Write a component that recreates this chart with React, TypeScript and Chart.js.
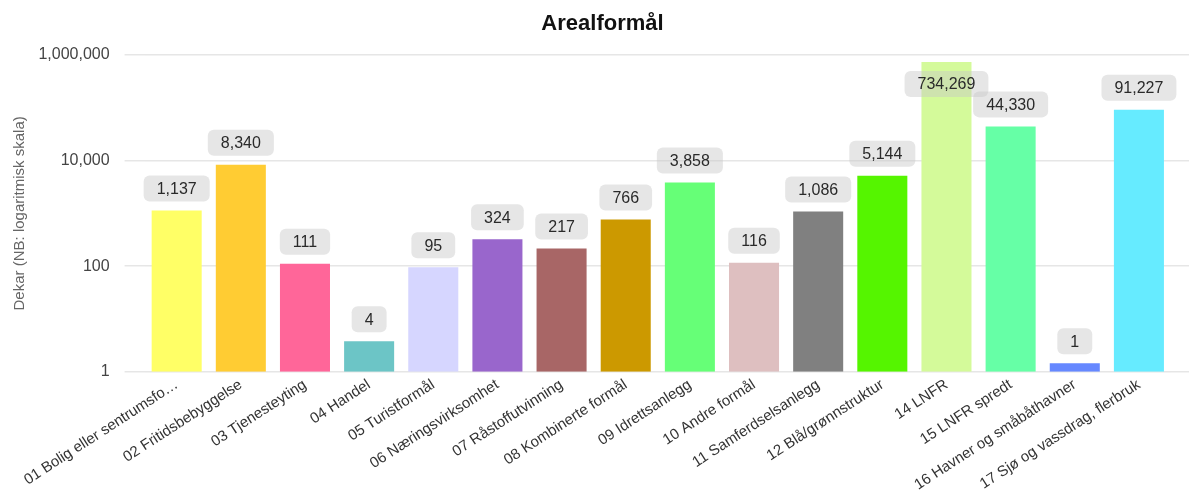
import React, { useEffect, useRef } from "react";
import { Chart, registerables } from "chart.js";

Chart.register(...registerables);

const chartTitle = "Arealformål";
const yAxisTitle = "Dekar (NB: logaritmisk skala)";

const categories = [
  "01 Bolig eller sentrumsformål",
  "02 Fritidsbebyggelse",
  "03 Tjenesteyting",
  "04 Handel",
  "05 Turistformål",
  "06 Næringsvirksomhet",
  "07 Råstoffutvinning",
  "08 Kombinerte formål",
  "09 Idrettsanlegg",
  "10 Andre formål",
  "11 Samferdselsanlegg",
  "12 Blå/grønnstruktur",
  "14 LNFR",
  "15 LNFR spredt",
  "16 Havner og småbåthavner",
  "17 Sjø og vassdrag, flerbruk",
];

const values = [1137, 8340, 111, 3.8, 95, 324, 217, 766, 3858, 116, 1086, 5144, 734269, 44330, 1.45, 91227];

const barColors = [
  "#FFFF66",
  "#FFCC33",
  "#FF6699",
  "#6CC5C6",
  "#D6D6FF",
  "#9966CC",
  "#A86666",
  "#CC9900",
  "#66FF77",
  "#DEBFC0",
  "#808080",
  "#55F500",
  "#D4FA9A",
  "#66FFA6",
  "#6688FF",
  "#66EBFF",
];

const yTickValues = [1, 100, 10000, 1000000];

const FONT = 'Arial, "Liberation Sans", sans-serif';

const fmt = (v: number) => Math.round(v).toLocaleString("en-US");

const valueLabelPlugin = {
  id: "valueLabels",
  afterDatasetsDraw(chart: any) {
    const { ctx, chartArea } = chart;
    const meta = chart.getDatasetMeta(0);
    const data = chart.data.datasets[0].data as number[];
    ctx.save();
    ctx.font = `16px ${FONT}`;
    ctx.textAlign = "center";
    ctx.textBaseline = "middle";
    meta.data.forEach((bar: any, i: number) => {
      const text = fmt(data[i]);
      const tw = ctx.measureText(text).width;
      const w = tw + 26;
      const h = 26;
      const x = bar.x;
      let top = bar.y - 9 - h;
      if (top < chartArea.top) top = bar.y + 9;
      ctx.fillStyle = "rgba(200,200,200,0.45)";
      ctx.beginPath();
      if ((ctx as any).roundRect) (ctx as any).roundRect(x - w / 2, top, w, h, 6);
      else ctx.rect(x - w / 2, top, w, h);
      ctx.fill();
      ctx.fillStyle = "#2a2a2a";
      ctx.fillText(text, x, top + h / 2 + 1);
    });
    ctx.restore();
  },
};

const setTicks = (scale: any) => {
  scale.ticks = yTickValues.map((v) => ({ value: v }));
};

export default function App() {
  const ref = useRef<HTMLCanvasElement | null>(null);

  useEffect(() => {
    if (!ref.current) return;
    Chart.defaults.font.family = FONT;
    const chart = new Chart(ref.current, {
      type: "bar",
      data: {
        labels: categories,
        datasets: [
          {
            data: values,
            backgroundColor: barColors,
            borderWidth: 0,
            barPercentage: 1,
            categoryPercentage: 0.78,
            yAxisID: "y",
          },
        ],
      },
      options: {
        responsive: false,
        animation: false,
        layout: { padding: { left: 8, right: 0, top: 0, bottom: 3 } },
        plugins: {
          legend: { display: false },
          tooltip: { enabled: false },
          title: {
            display: true,
            text: chartTitle,
            color: "#111",
            font: { size: 22, weight: "bold", family: FONT },
            padding: { top: 11, bottom: 17.5 },
          },
        },
        scales: {
          x: {
            grid: { display: false, drawTicks: false },
            border: { display: false },
            afterFit: (scale: any) => {
              scale.paddingLeft = 0;
            },
            ticks: {
              autoSkip: false,
              minRotation: 33,
              maxRotation: 33,
              padding: 4,
              color: "#333",
              font: { size: 15, family: FONT },
              callback: (v: any) => {
                const l = categories[Number(v)];
                return l.length > 28 ? l.slice(0, 25) + "…" : l;
              },
            },
          },
          y: {
            type: "logarithmic",
            min: 1,
            max: 1000000,
            afterBuildTicks: setTicks,
            afterFit: (scale: any) => {
              scale.width = 136.6;
            },
            grid: { color: "#e6e6e6", lineWidth: 1.5, tickLength: 20, drawTicks: true },
            border: { display: false },
            ticks: {
              padding: 15,
              color: "#444",
              font: { size: 16, family: FONT },
              callback: (v: any) => Number(v).toLocaleString("en-US"),
            },
            title: {
              display: true,
              text: yAxisTitle,
              color: "#666",
              font: { size: 15, family: FONT },
              padding: { top: 3, bottom: 10 },
            },
          },
          y2: {
            type: "logarithmic",
            position: "right",
            min: 1,
            max: 1000000,
            afterBuildTicks: setTicks,
            grid: { drawOnChartArea: false, color: "#e6e6e6", lineWidth: 1.5, tickLength: 26, drawTicks: true },
            border: { display: false },
            ticks: { display: false },
          },
        },
      } as any,
      plugins: [valueLabelPlugin],
    });
    return () => chart.destroy();
  }, []);

  return (
    <div style={{ position: "absolute", left: 0, top: 0, width: 1189, height: 501, overflow: "hidden", background: "#fff" }}>
      <canvas ref={ref} width={1197} height={501} style={{ display: "block" }} />
    </div>
  );
}
